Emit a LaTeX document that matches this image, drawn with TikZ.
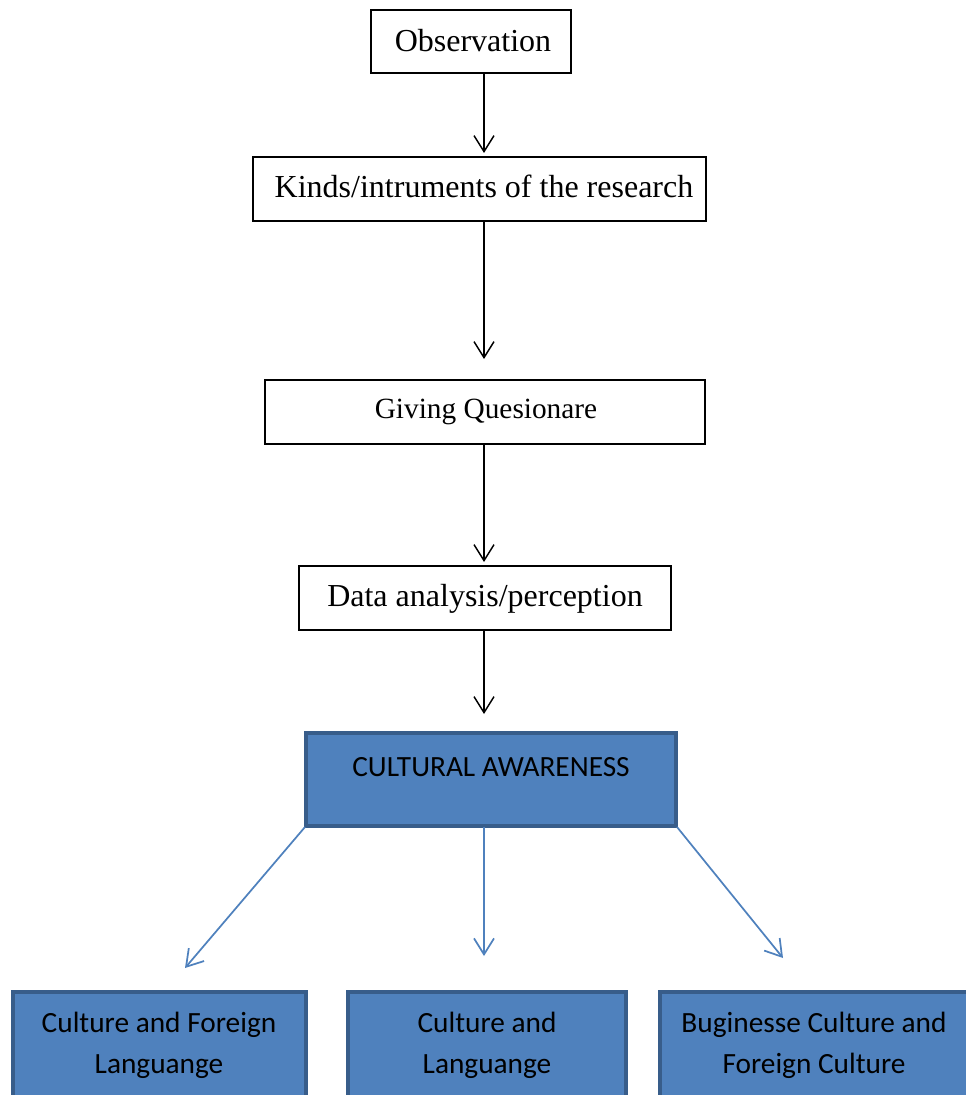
\documentclass[tikz,border=0pt]{standalone}
\usepackage{fontspec}
\setmainfont{Liberation Serif}
\newfontfamily\calfont{Carlito}
\usetikzlibrary{arrows.meta}
\definecolor{boxblue}{HTML}{4F81BD}
\definecolor{boxedge}{HTML}{385D8A}
\begin{document}
\begin{tikzpicture}[x=0.75pt,y=-0.75pt,
  wbox/.style={draw=black,line width=1pt,fill=white,inner sep=0pt},
  bbox/.style={draw=boxedge,line width=3pt,fill=boxblue,inner sep=0pt},
  blk/.style={line width=1.1pt,-{Straight Barb[length=12pt,width=15pt,line width=1.1pt]}},
  blu/.style={draw=boxblue,line width=1.3pt,-{Straight Barb[length=12pt,width=15pt,line width=1.3pt]}},
  serif/.style={font=\fontsize{24}{28}\selectfont},
  sans/.style={font=\calfont\fontsize{22}{31}\selectfont,align=center}]
\useasboundingbox (0,0) rectangle (966,1095);
\clip (0,0) rectangle (966,1095);
% white boxes
\draw[wbox] (371,10) rectangle (571,73);
\node[serif] (obs) at (473,41) {Observation};
\coordinate (obsT) at (484,73);
\draw[wbox] (253,157) rectangle (706,221);
\node[serif] (kin) at (484,186) {Kinds/intruments of the research};
\coordinate (kinT) at (484,153);
\coordinate (kinB) at (484,221);
\draw[wbox] (265,380) rectangle (705,444);
\node[font=\fontsize{22}{26}\selectfont] (giv) at (486,412) {Giving Quesionare};
\coordinate (givT) at (484,359);
\coordinate (givB) at (484,444);
\draw[wbox] (299,566) rectangle (671,630);
\node[serif] (dat) at (485,599) {Data analysis/perception};
\coordinate (datT) at (484,562);
\coordinate (datB) at (484,630);
\coordinate (cawT) at (484,714);
\draw[blk] (obsT) -- (kinT);
\draw[blk] (kinB) -- (givT);
\draw[blk] (givB) -- (datT);
\draw[blk] (datB) -- (cawT);
% blue boxes
\draw[bbox] (306,733) rectangle (676,826);
\node[sans] (caw) at (491,767) {CULTURAL AWARENESS};
\coordinate (cawL) at (305,827);
\coordinate (cawM) at (484,827);
\coordinate (cawR) at (677,827);
\draw[bbox] (13,992) rectangle (306,1110);
\node[sans] (c1) at (159,1045) {Culture and Foreign\\Languange};
\draw[bbox] (348,992) rectangle (626,1110);
\node[sans] (c2) at (487,1045) {Culture and\\Languange};
\draw[bbox] (660,992) rectangle (980,1110);
\node[sans] (c3) at (814,1045) {Buginesse Culture and\\Foreign Culture};
\coordinate (a1) at (185,968);
\coordinate (a2) at (484,956);
\coordinate (a3) at (783,958);
\draw[blu] (cawL) -- (a1);
\draw[blu] (cawM) -- (a2);
\draw[blu] (cawR) -- (a3);
\end{tikzpicture}
\end{document}
